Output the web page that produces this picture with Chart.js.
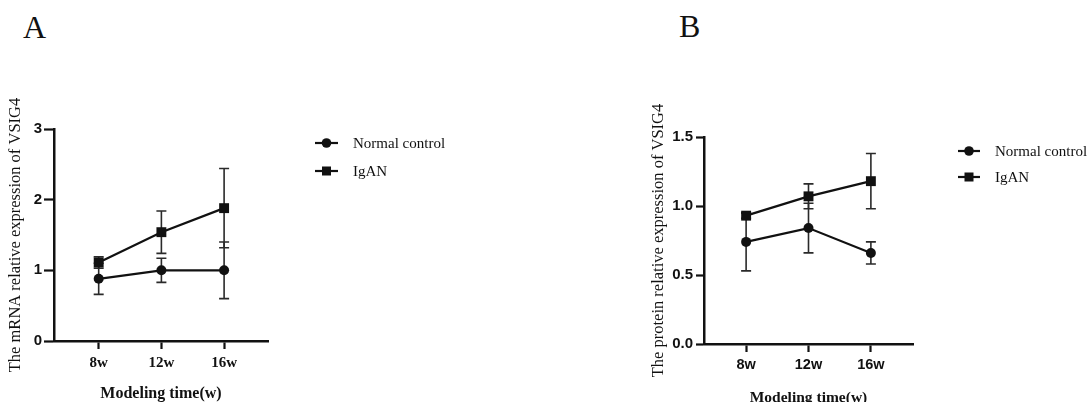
<!DOCTYPE html>
<html><head><meta charset="utf-8">
<script src="https://cdn.jsdelivr.net/npm/chart.js@4.4.1/dist/chart.umd.min.js"></script>
<style>
html,body{margin:0;padding:0;background:#fff;width:1089px;height:402px;overflow:hidden;}
body{position:relative;}
canvas{position:absolute;top:0;}
#cA{left:0}
#cB{left:545px}
.panel{position:absolute;font-family:"Liberation Serif","Times New Roman",serif;font-size:32px;color:#111;line-height:32px}
.leg{position:absolute;font-family:"Liberation Serif","Times New Roman",serif;font-size:15px;color:#111;display:flex;align-items:center;height:20px;white-space:nowrap}
.leg svg{display:block;margin-right:15px}
</style>
</head><body>
<div class="panel" style="left:23px;top:11px">A</div>
<div class="panel" style="left:679px;top:10px">B</div>
<canvas id="cA" width="545" height="420"></canvas>
<canvas id="cB" width="544" height="420"></canvas>
<div class="leg" style="left:315px;top:133px"><svg width="23" height="20"><line x1="0" y1="10" x2="23" y2="10" stroke="#111" stroke-width="2.2"/><circle cx="11.5" cy="10" r="4.8" fill="#111"/></svg>Normal control</div>
<div class="leg" style="left:315px;top:161px"><svg width="23" height="20"><line x1="0" y1="10" x2="23" y2="10" stroke="#111" stroke-width="2.2"/><rect x="7" y="5.5" width="9" height="9" fill="#111"/></svg>IgAN</div>
<div class="leg" style="left:958px;top:141px"><svg width="22" height="20"><line x1="0" y1="10" x2="22" y2="10" stroke="#111" stroke-width="2.2"/><circle cx="11" cy="10" r="4.8" fill="#111"/></svg>Normal control</div>
<div class="leg" style="left:958px;top:167px"><svg width="22" height="20"><line x1="0" y1="10" x2="22" y2="10" stroke="#111" stroke-width="2.2"/><rect x="6.5" y="5.5" width="9" height="9" fill="#111"/></svg>IgAN</div>
<script>
// ---- data ----
const weeks = [8, 12, 16];
const weekLabels = ['8w', '12w', '16w'];
const seriesNames = ['Normal control', 'IgAN'];
const mrnaNormal = [0.88, 1.00, 1.00];
const mrnaNormalSD = [0.22, 0.17, 0.40];
const mrnaIgAN = [1.11, 1.54, 1.88];
const mrnaIgANSD = [0.08, 0.30, 0.56];
const proteinNormal = [0.74, 0.84, 0.66];
const proteinNormalSD = [0.21, 0.18, 0.08];
const proteinIgAN = [0.93, 1.07, 1.18];
const proteinIgANSD = [0.02, 0.09, 0.20];
const mrnaTicks = [0, 1, 2, 3];
const proteinTicks = [0, 0.5, 1.0, 1.5];

const errorBars = {
  id: 'errorBars',
  beforeDatasetsDraw(chart) {
    const {ctx, scales: {x, y}} = chart;
    ctx.save();
    ctx.strokeStyle = '#2a2a2a';
    ctx.lineWidth = 1.6;
    chart.data.datasets.forEach(ds => {
      ds.data.forEach((p, i) => {
        const sd = ds.errors[i];
        const px = x.getPixelForValue(p.x);
        const t = y.getPixelForValue(p.y + sd), b = y.getPixelForValue(p.y - sd);
        ctx.beginPath();
        ctx.moveTo(px, t); ctx.lineTo(px, b);
        ctx.moveTo(px - 5, t); ctx.lineTo(px + 5, t);
        ctx.moveTo(px - 5, b); ctx.lineTo(px + 5, b);
        ctx.stroke();
      });
    });
    ctx.restore();
  }
};

function ds(label, vals, sd, style) {
  return {
    label, data: weeks.map((w, i) => ({x: w, y: vals[i]})), errors: sd,
    borderColor: '#111', backgroundColor: '#111', borderWidth: 2.2,
    pointStyle: style, pointRadius: style === 'rect' ? 7 : 5,
    pointBorderWidth: 0, tension: 0, clip: false
  };
}

function makeChart(id, c) {
  const W = c.W, H = 420;
  return new Chart(document.getElementById(id), {
    type: 'line',
    data: { datasets: [
      ds(seriesNames[0], c.normal, c.normalSD, 'circle'),
      ds(seriesNames[1], c.igan, c.iganSD, 'rect')
    ]},
    plugins: [errorBars],
    options: {
      responsive: false, animation: false, devicePixelRatio: 1,
      layout: { padding: { left: 0, top: c.area.top, right: W - c.area.right, bottom: 0 } },
      plugins: { legend: { display: false }, tooltip: { enabled: false } },
      scales: {
        x: {
          type: 'linear', min: c.xMin, max: c.xMax,
          afterBuildTicks: s => { s.ticks = weeks.map(v => ({value: v})); },
          afterFit: s => { s.height = H - c.area.bottom; },
          ticks: { callback: (v, i) => weekLabels[i], font: c.xTickFont, color: '#111', padding: c.xTickPad, maxRotation: 0, autoSkip: false },
          grid: { drawOnChartArea: false, drawTicks: true, tickLength: 8, tickWidth: 2.2, tickColor: '#111', color: '#111' },
          border: { color: '#111', width: 2.5 },
          title: { display: true, text: 'Modeling time(w)', color: '#111',
            font: { family: 'Liberation Serif', weight: 'bold', size: c.xTitleSize, lineHeight: 1.2 },
            padding: { top: 0, bottom: c.xTitlePadBottom } }
        },
        y: {
          type: 'linear', min: c.yTicks[0], max: c.yTicks[c.yTicks.length - 1],
          afterBuildTicks: s => { s.ticks = c.yTicks.map(v => ({value: v})); },
          afterFit: s => { s.width = c.area.left; },
          ticks: { callback: v => c.fmt(v), font: { family: 'Liberation Sans', weight: 'bold', size: 15 }, color: '#111', padding: c.yTickPad },
          grid: { drawOnChartArea: false, drawTicks: true, tickLength: c.yTickLen, tickWidth: 2.2, tickColor: '#111', color: '#111' },
          border: { color: '#111', width: 2.5 },
          title: { display: true, text: c.yTitle, color: '#111',
            font: { family: 'Liberation Serif', size: 16.5, lineHeight: 1.2 },
            padding: { top: c.yTitlePadTop, bottom: 0 } }
        }
      }
    }
  });
}

makeChart('cA', {
  W: 545, area: { left: 54, right: 268, top: 129, bottom: 341 },
  xMin: 5.15, xMax: 18.8,
  normal: mrnaNormal, normalSD: mrnaNormalSD, igan: mrnaIgAN, iganSD: mrnaIgANSD,
  yTicks: mrnaTicks, fmt: v => String(v),
  xTickFont: { family: 'Liberation Serif', weight: 'bold', size: 15 }, xTickPad: 5,
  xTitleSize: 16, xTitlePadBottom: 17,
  yTickLen: 10, yTickPad: 2,
  yTitle: 'The mRNA relative expression of VSIG4', yTitlePadTop: 6
});

makeChart('cB', {
  W: 544, area: { left: 159, right: 368, top: 137, bottom: 344 },
  xMin: 5.3, xMax: 18.7,
  normal: proteinNormal, normalSD: proteinNormalSD, igan: proteinIgAN, iganSD: proteinIgANSD,
  yTicks: proteinTicks, fmt: v => v.toFixed(1),
  xTickFont: { family: 'Liberation Sans', weight: 'bold', size: 14.5 }, xTickPad: 4,
  xTitleSize: 15.5, xTitlePadBottom: 13,
  yTickLen: 8, yTickPad: 3,
  yTitle: 'The protein relative expression of VSIG4', yTitlePadTop: 104
});
</script>
</body></html>
